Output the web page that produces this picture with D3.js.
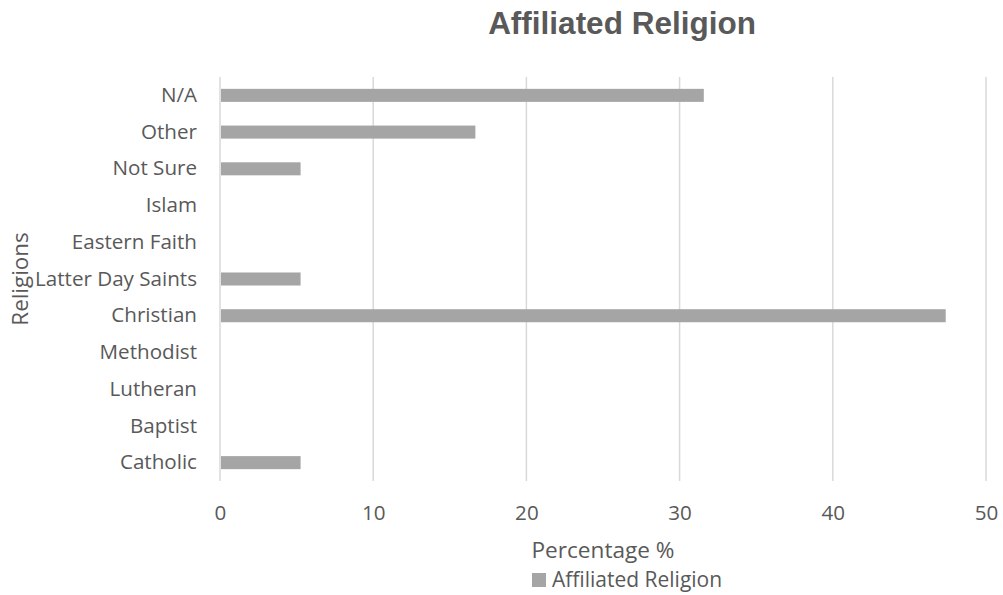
<!DOCTYPE html>
<html>
<head>
<meta charset="utf-8">
<script src="https://cdn.jsdelivr.net/npm/d3@7"></script>
<style>
  html, body { margin: 0; padding: 0; background: #fff; }
  svg { display: block; }
</style>
</head>
<body>
<svg id="chart" width="1003" height="595"></svg>
<script>
const categories = ["Catholic", "Baptist", "Lutheran", "Methodist", "Christian", "Latter Day Saints", "Eastern Faith", "Islam", "Not Sure", "Other", "N/A"];
const values = [5.26, 0, 0, 0, 47.37, 5.26, 0, 0, 5.26, 16.67, 31.58];
const xTicks = [0, 10, 20, 30, 40, 50];
const seriesName = "Affiliated Religion";
const chartTitle = "Affiliated Religion";
const xTitle = "Percentage %";
const yTitle = "Religions";

const svg = d3.select("#chart");
const plot = { left: 220, right: 986, top: 77, bottom: 481 };
const textColor = "#595959";
const tickFont = "'Open Sans', 'Noto Sans', sans-serif";

const x = d3.scaleLinear().domain([0, 50]).range([plot.left, plot.right]);
const y = d3.scaleBand()
  .domain(categories.slice().reverse())
  .range([plot.top, plot.bottom])
  .paddingInner(0.645)
  .paddingOuter(0.3225);

// gridlines
svg.append("g")
  .selectAll("line")
  .data(xTicks)
  .join("line")
  .attr("x1", d => x(d)).attr("x2", d => x(d))
  .attr("y1", plot.top).attr("y2", plot.bottom)
  .attr("stroke", "#d9d9d9")
  .attr("stroke-width", 1.5);

// bars
svg.append("g")
  .selectAll("rect")
  .data(categories.map((c, i) => ({ c, v: values[i] })).filter(d => d.v > 0))
  .join("rect")
  .attr("x", x(0) + 1)
  .attr("y", d => y(d.c))
  .attr("width", d => x(d.v) - x(0) - 1)
  .attr("height", y.bandwidth())
  .attr("fill", "#a5a5a5");

// y axis (category labels)
const yAxis = d3.axisLeft(y).tickSize(0).tickPadding(23);
const gy = svg.append("g").attr("transform", `translate(${plot.left},0)`).call(yAxis);
gy.select(".domain").remove();
gy.selectAll("text")
  .attr("fill", textColor)
  .style("font-family", tickFont)
  .style("font-size", "20.6px");

// x axis
const xAxis = d3.axisBottom(x).tickValues(xTicks).tickSize(0).tickPadding(24);
const gx = svg.append("g").attr("transform", `translate(0,${plot.bottom})`).call(xAxis);
gx.select(".domain").remove();
gx.selectAll("text")
  .attr("fill", textColor)
  .style("font-family", tickFont)
  .style("font-size", "20.6px");

// title
svg.append("text")
  .attr("x", 622).attr("y", 34)
  .attr("text-anchor", "middle")
  .attr("fill", textColor)
  .style("font-family", "'Liberation Sans', Arial, sans-serif")
  .style("font-weight", "bold")
  .style("font-size", "31.5px")
  .text(chartTitle);

// x title
svg.append("text")
  .attr("x", (plot.left + plot.right) / 2).attr("y", 558)
  .attr("text-anchor", "middle")
  .attr("fill", textColor)
  .style("font-family", tickFont)
  .style("font-size", "22.6px")
  .text(xTitle);

// y title
svg.append("text")
  .attr("transform", `translate(28,${(plot.top + plot.bottom) / 2}) rotate(-90)`)
  .attr("text-anchor", "middle")
  .attr("fill", textColor)
  .style("font-family", tickFont)
  .style("font-size", "22.4px")
  .text(yTitle);

// legend
const lg = svg.append("g").attr("transform", "translate(532,573)");
lg.append("rect").attr("x", 0).attr("y", 0).attr("width", 14).attr("height", 14).attr("fill", "#a5a5a5");
lg.append("text")
  .attr("x", 20).attr("y", 14)
  .attr("fill", textColor)
  .style("font-family", tickFont)
  .style("font-size", "21px")
  .text(seriesName);
</script>
</body>
</html>
